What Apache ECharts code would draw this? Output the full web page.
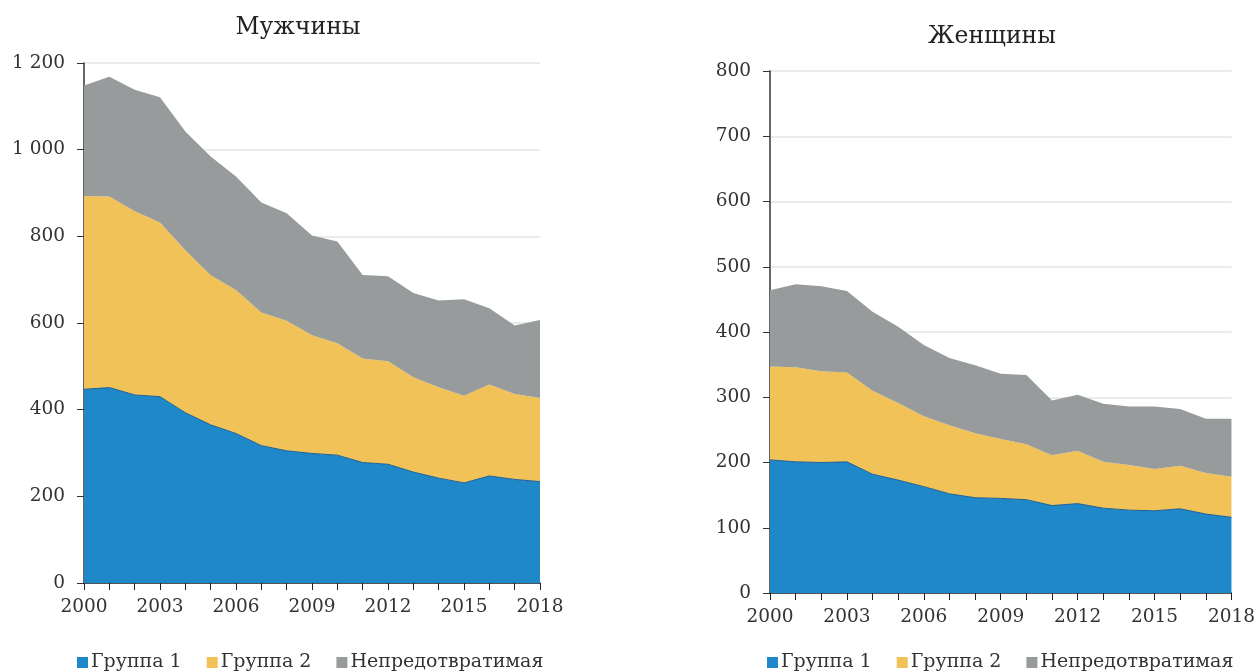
<!DOCTYPE html>
<html><head><meta charset="utf-8">
<script src="https://cdn.jsdelivr.net/npm/echarts@6/dist/echarts.min.js"></script>
<style>html,body{margin:0;padding:0;background:#fff}#c{width:1258px;height:671px}</style>
</head><body><div id="c"></div>
<script>
const years = ['2000','2001','2002','2003','2004','2005','2006','2007','2008','2009','2010','2011','2012','2013','2014','2015','2016','2017','2018'];
const seriesNames = ['Группа 1','Группа 2','Непредотвратимая'];
const menG1 = [447,451,434,430,393,365,345,317,305,299,295,278,274,256,242,231,247,239,234];
const menG2 = [446,441,424,402,375,345,331,307,300,273,258,240,238,219,210,201,211,197,193];
const menG3 = [255,276,280,289,274,274,262,254,248,230,235,193,196,194,200,223,176,158,180];
const womenG1 = [204,201,200,201,182,173,163,152,146,145,143,134,137,130,127,126,129,121,116];
const womenG2 = [143,145,140,137,128,118,108,105,99,91,85,77,81,71,69,64,66,63,62];
const womenG3 = [117,127,130,125,121,117,109,103,104,100,106,84,86,89,90,96,87,83,89];
const titles = ['Мужчины','Женщины'];

const FONT = 'DejaVu Serif';
const colors = ['#1e88c9','#f0c257','#989b9b'];
const chart = echarts.init(document.getElementById('c'), null, {renderer:'canvas'});

function xAxis(gi){
  return {type:'category', gridIndex:gi, data:years, boundaryGap:false,
    axisLine:{lineStyle:{color:'#222',width:1.5}},
    axisTick:{interval:0,length:7,lineStyle:{color:'#222'}},
    axisLabel:{interval:2,color:'#333',fontFamily:FONT,fontSize:18.5,margin:15},
    splitLine:{show:false}};
}
function yAxis(gi,max,interval){
  return {type:'value', gridIndex:gi, min:0, max:max, interval:interval,
    axisLine:{show:true,lineStyle:{color:'#333',width:1.5}},
    axisTick:{show:true,length:7,lineStyle:{color:'#333'}},
    axisLabel:{color:'#333',fontFamily:FONT,fontSize:18.5,margin:19,
      formatter:v=> v>=1000 ? String(v).replace(/\B(?=(\d{3})+(?!\d))/g,' ') : String(v)},
    splitLine:{show:true,lineStyle:{color:'#ebebeb',width:2}}};
}
function areaSeries(gi,stack,data){
  return data.map((d,i)=>({
    name:seriesNames[i], type:'line', stack:stack, xAxisIndex:gi, yAxisIndex:gi,
    data:d, symbol:'none', smooth:false,
    lineStyle: i===0 ? {color:'#1b5f98',width:1} : {width:0},
    itemStyle:{color:colors[i]},
    areaStyle:{color:colors[i],opacity:1}, z:2
  }));
}
const legendText = {fontFamily:FONT,fontSize:19,color:'#333',padding:[0,0,0,-2]};

chart.setOption({
  animation:false,
  title:[
    {text:titles[0], left:293, top:11, textAlign:'center', textStyle:{fontFamily:FONT,fontSize:23.5,fontWeight:'normal',color:'#222'}},
    {text:titles[1], left:987, top:20, textAlign:'center', textStyle:{fontFamily:FONT,fontSize:23.5,fontWeight:'normal',color:'#222'}}
  ],
  legend:[
    {data:seriesNames, left:72, top:648, icon:'rect', itemWidth:11, itemHeight:11, itemGap:25, textStyle:legendText},
    {data:seriesNames, left:762, top:648, icon:'rect', itemWidth:11, itemHeight:11, itemGap:25, textStyle:legendText}
  ],
  grid:[
    {left:84, right:718, top:63, bottom:88},
    {left:770, right:25, top:71, bottom:78}
  ],
  xAxis:[xAxis(0), xAxis(1)],
  yAxis:[yAxis(0,1200,200), yAxis(1,800,100)],
  series:[...areaSeries(0,'m',[menG1,menG2,menG3]), ...areaSeries(1,'w',[womenG1,womenG2,womenG3])]
});
</script></body></html>
